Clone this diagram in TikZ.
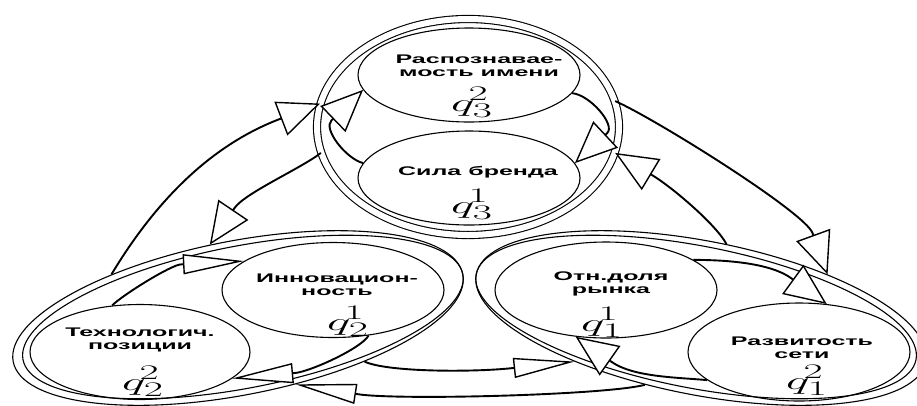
\documentclass[tikz,border=0pt]{standalone}
\usepackage{fontspec}
\newfontfamily\lblfont[FakeStretch=2.0]{Liberation Sans}
\usetikzlibrary{arrows.meta,shapes.geometric,calc}
\newcommand{\qsym}[2]{\scalebox{2.0}[1.0]{$q^{\kern-3pt\raisebox{2pt}{$\scriptstyle #1$}}_{#2}$}}
\begin{document}
\begin{tikzpicture}[x=1pt,y=-1pt,
  ell/.style={ellipse,draw,line width=1.1pt,inner sep=0pt},
  lbl/.style={font=\lblfont\bfseries\fontsize{12.5}{13.5}\selectfont,align=center,inner sep=0pt},
  qlab/.style={font=\fontsize{24.88}{26}\selectfont,inner sep=0pt},
  conn/.style={line width=1.9pt},
  fatarrow/.style={-{Triangle[length=42pt,width=36pt,fill=white,line width=1.4pt]}},
  longarrow/.style={-{Triangle[length=61pt,width=20pt,fill=white,line width=1.4pt]}}
]
\fill[white] (0,0) rectangle (917,405);
\clip (0,0) rectangle (917,405);

% group outlines
\node[ell,minimum width=302,minimum height=216,double,double distance=6pt] (T) at (468,127) {};
\node[ell,rotate=11,minimum width=458,minimum height=154] (L) at (238,318) {};
\node[ell,rotate=11,minimum width=448,minimum height=142] (Lin) at (242.9,317) {};
\node[ell,rotate=-11,minimum width=458,minimum height=154] (R) at (701,318) {};
\node[ell,rotate=-11,minimum width=448,minimum height=142] (Rin) at (696.1,317) {};

% inner ellipses
\node[ell,minimum width=222,minimum height=94] (R3) at (469,75) {};
\node[ell,minimum width=222,minimum height=94] (S3) at (469,178) {};
\node[ell,minimum width=220,minimum height=95] (T2) at (140,352) {};
\node[ell,minimum width=222,minimum height=95] (I2) at (333,290) {};
\node[ell,minimum width=222,minimum height=96] (O1) at (606,290) {};
\node[ell,minimum width=222,minimum height=98] (D1) at (799,352) {};

% labels
\node[lbl] (tR3) at (479,66) {Распознавае-\\мость имени};
\node[qlab] (qR3) at (472,102) {\qsym{2}{3}};
\node[lbl] (tS3) at (478,172) {Сила бренда};
\node[qlab] (qS3) at (472,204) {\qsym{1}{3}};
\node[lbl] (tI2) at (337,285) {Инновацион-\\ность};
\node[qlab] (qI2) at (348,321) {\qsym{1}{2}};
\node[lbl] (tT2) at (140,340) {Технологич.\\позиции};
\node[qlab] (qT2) at (143,381) {\qsym{2}{2}};
\node[lbl] (tO1) at (611,284) {Отн.доля\\рынка};
\node[qlab] (qO1) at (602,322) {\qsym{1}{1}};
\node[lbl] (tD1) at (802,348) {Развитость\\сети};
\node[qlab] (qD1) at (807,380) {\qsym{2}{1}};

% connectors
\draw[conn,fatarrow] (L.150) .. controls ($(L.150)+(59:90pt)$) and ($(T.171)+(201:114pt)$) .. ($(T.171)+(201:44pt)$) -- (T.171);
\draw[conn,fatarrow] (T.190) .. controls ($(T.190)+(218:25pt)$) and ($(L.100)+(56:62pt)$) .. ($(L.100)+(56:44pt)$) -- (L.100);
\draw[conn,fatarrow] (S3.172) .. controls ($(S3.172)+(165:18pt)$) and ($(R3.188)+(224:56pt)$) .. ($(R3.188)+(224:44pt)$) -- (R3.188);
\draw[conn,fatarrow] (R3.350) .. controls ($(R3.350)+(-5:18pt)$) and ($(S3.8)+(43:56pt)$) .. ($(S3.8)+(43:44pt)$) -- (S3.8);
\draw[conn,fatarrow] (R.82) .. controls ($(R.82)+(118:22pt)$) and ($(T.350)+(329:66pt)$) .. ($(T.350)+(329:44pt)$) -- (T.350);
\draw[conn,fatarrow] (T.10) .. controls ($(T.10)+(-24:45pt)$) and ($(R.30)+(110:66pt)$) .. ($(R.30)+(110:44pt)$) -- (R.30);
\draw[conn,fatarrow] (O1.19) .. controls ($(O1.19)+(0:32pt)$) and ($(D1.60)+(144:70pt)$) .. ($(D1.60)+(144:44pt)$) -- (D1.60);
\draw[conn,fatarrow] (D1.197) .. controls ($(D1.197)+(175:32pt)$) and ($(O1.237)+(325:70pt)$) .. ($(O1.237)+(325:44pt)$) -- (O1.237);
\draw[conn,longarrow] (L.330) .. controls ($(L.330)+(-25:25pt)$) and ($(R.210)+(186:103pt)$) .. ($(R.210)+(186:63pt)$) -- (R.210);
\draw[conn,longarrow] (R.241) .. controls ($(R.241)+(195:40pt)$) and ($(L.300)+(351:103pt)$) .. ($(L.300)+(351:63pt)$) -- (L.300);
\draw[conn,longarrow] (I2.308) .. controls ($(I2.308)+(240:15pt)$) and ($(T2.344)+(5:78pt)$) .. ($(T2.344)+(5:63pt)$) -- (T2.344);
\draw[conn,longarrow] (T2.121) .. controls ($(T2.121)+(45:15pt)$) and ($(I2.162)+(183:73pt)$) .. ($(I2.162)+(183:63pt)$) -- (I2.162);
\end{tikzpicture}
\end{document}
